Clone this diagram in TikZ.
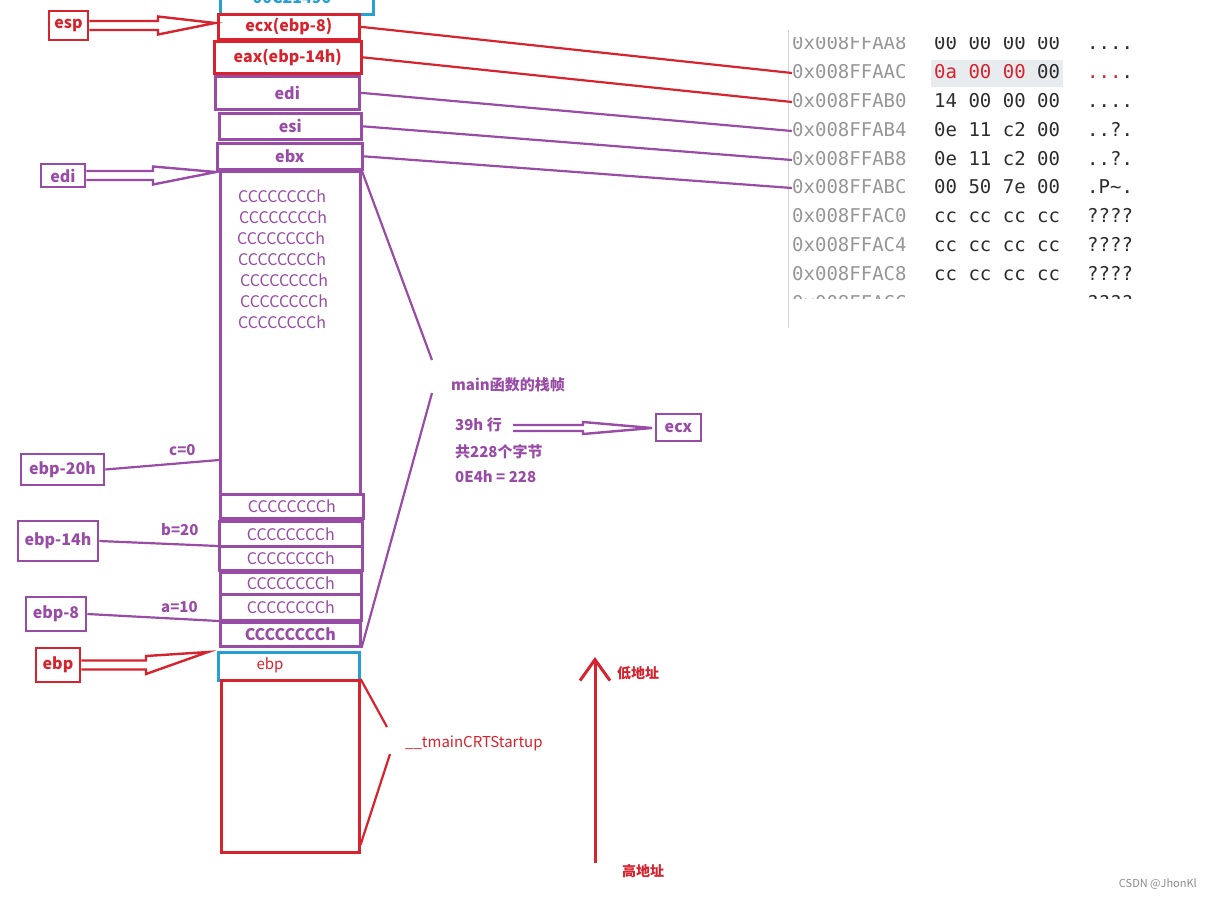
\documentclass[tikz,border=0pt]{standalone}
\usepackage{fontspec}
\setmainfont{Noto Sans CJK SC}
\newfontfamily\monof{DejaVu Sans Mono}
\usetikzlibrary{calc,arrows.meta}
\definecolor{myred}{RGB}{214,35,45}
\definecolor{mypur}{RGB}{152,76,166}
\definecolor{mycyan}{RGB}{38,160,210}
\definecolor{memgray}{RGB}{150,150,150}
\definecolor{memdark}{RGB}{45,45,45}
\definecolor{memhl}{RGB}{233,236,239}
\newcommand\harrow[5]{%
  \draw[#5, line width=2.4pt, line join=miter] let \p1=(#1), \p2=(#2) in
    (\x1,{\y1+#3}) -- ({\x2-#4},{\y1+#3}) -- ({\x2-#4},{\y1+2*#3}) -- (\x2,\y2)
    -- ({\x2-#4},{\y1-2*#3}) -- ({\x2-#4},{\y1-#3}) -- (\x1,{\y1-#3});}
\begin{document}
\begin{tikzpicture}[x=1pt,y=-1pt,
  sbox/.style={draw, line width=2.6pt, rectangle, inner sep=0pt, anchor=north west},
  rbox/.style={sbox, draw=myred, text=myred, font=\fontsize{16}{19}\selectfont\bfseries},
  pbox/.style={sbox, draw=mypur, text=mypur, font=\fontsize{16}{19}\selectfont\bfseries},
  ccbox/.style={sbox, draw=mypur, text=mypur, font=\fontsize{16}{19}\selectfont},
  ctext/.style={text=mypur, font=\fontsize{16}{19}\selectfont, anchor=west, inner sep=0pt},
  lbl/.style={draw, line width=2.6pt, inner sep=0pt, font=\fontsize{16}{19}\selectfont\bfseries},
  ptxt/.style={text=mypur, font=\fontsize{15}{18}\selectfont\bfseries, anchor=west, inner sep=0pt},
  pline/.style={draw=mypur, line width=2.2pt},
  rline/.style={draw=myred, line width=2.2pt},
  addr/.style={text=memgray, font=\monof\fontsize{19}{22}\selectfont, anchor=west, inner sep=0pt, text height=14pt, text depth=4pt},
  bytes/.style={text=memdark, font=\monof\fontsize{19}{22}\selectfont, anchor=west, inner sep=0pt, text height=14pt, text depth=4pt},
]
\useasboundingbox (0,0) rectangle (1209,898);
\clip (0,0) rectangle (1209,898);
\fill[white] (0,0) rectangle (1209,898);

% ---------- stack ----------
\node[sbox, draw=mycyan, minimum width=153pt, minimum height=35pt] (top) at (219,-22) {};
\node[text=mycyan, font=\fontsize{16}{19}\selectfont\bfseries, anchor=base, inner sep=0pt] (toptxt) at (292,3) {00C21490};
\node[rbox, minimum width=141pt, minimum height=25pt] (ecx) at (217,13) {ecx(ebp-8)};
\node[rbox, minimum width=147pt, minimum height=32pt] (eax) at (213,40) {eax(ebp-14h)};
\node[pbox, minimum width=144pt, minimum height=33pt] (edi) at (214,75) {edi};
\node[pbox, minimum width=142pt, minimum height=26pt] (esi) at (218,112) {esi};
\node[pbox, minimum width=145pt, minimum height=26pt] (ebx) at (216,142) {ebx};
\node[sbox, draw=mypur, minimum width=140pt, minimum height=323pt] (big) at (219,170) {};
\node[ctext] (l1) at (238,196) {CCCCCCCCh};
\node[ctext] (l2) at (239,217) {CCCCCCCCh};
\node[ctext] (l3) at (237,238) {CCCCCCCCh};
\node[ctext] (l4) at (238,259) {CCCCCCCCh};
\node[ctext] (l5) at (240,280) {CCCCCCCCh};
\node[ctext] (l6) at (240,301) {CCCCCCCCh};
\node[ctext] (l7) at (238,322) {CCCCCCCCh};
\node[ccbox, minimum width=143pt, minimum height=24pt] (c1) at (219,493) {CCCCCCCCh};
\node[ccbox, minimum width=143pt, minimum height=25pt] (c2) at (218,520) {CCCCCCCCh};
\node[ccbox, minimum width=143pt, minimum height=24pt] (c3) at (218,545) {CCCCCCCCh};
\node[ccbox, minimum width=141pt, minimum height=22pt] (c4) at (219,571) {CCCCCCCCh};
\node[ccbox, minimum width=141pt, minimum height=26pt] (c5) at (219,593) {CCCCCCCCh};
\node[ccbox, minimum width=140pt, minimum height=24pt, font=\fontsize{16}{19}\selectfont\bfseries] (c6) at (219,621) {CCCCCCCCh};
\node[sbox, draw=mycyan, minimum width=141pt, minimum height=28pt] (ebpbox) at (217,651) {};
\node[text=myred, font=\fontsize{15}{18}\selectfont, inner sep=0pt] (ebptxt) at (270,665) {ebp};
\node[sbox, draw=myred, minimum width=138pt, minimum height=172pt] (crt) at (220,679) {};

% ---------- left labels ----------
\node[lbl, draw=myred, text=myred, minimum width=39pt, minimum height=29pt] (esp) at (68.5,25.5) {esp};
\node[lbl, draw=mypur, text=mypur, minimum width=44pt, minimum height=23pt] (ledi) at (63,175.5) {edi};
\node[lbl, draw=mypur, text=mypur, minimum width=83pt, minimum height=31pt] (e20) at (62.5,469.5) {ebp-20h};
\node[lbl, draw=mypur, text=mypur, minimum width=80pt, minimum height=40pt] (e14) at (58,541) {ebp-14h};
\node[lbl, draw=mypur, text=mypur, minimum width=60pt, minimum height=34pt] (e8) at (56,614) {ebp-8};
\node[lbl, draw=myred, text=myred, minimum width=44pt, minimum height=34pt] (lebp) at (58,665) {ebp};

\coordinate (esptip) at (215,23);
\coordinate (editip) at (216,172);
\coordinate (ebptip) at (208,652);
\harrow{esp.east}{esptip}{4.5pt}{57pt}{myred}
\harrow{ledi.east}{editip}{4.5pt}{63pt}{mypur}
\harrow{lebp.east}{ebptip}{4.5pt}{62pt}{myred}

\coordinate (cpt) at (219,460);
\coordinate (bpt) at (218,546);
\coordinate (apt) at (219,621);
\draw[pline] (e20.east) -- (cpt);
\draw[pline] (e14.east) -- (bpt);
\draw[pline] (e8.east) -- (apt);
\node[ptxt] (cl) at (169,450) {c=0};
\node[ptxt] (bl) at (161,530) {b=20};
\node[ptxt] (al) at (161,607) {a=10};

% ---------- bracket & notes ----------
\coordinate (br1) at (432,360);
\coordinate (br2) at (432,393);
\draw[pline] (big.north east) -- (br1);
\draw[pline] (c6.south east) -- (br2);
\node[ptxt] (mainf) at (451,385) {main函数的栈帧};
\node[ptxt] (h39) at (455,425) {39h 行};
\node[ptxt] (tot) at (455,452) {共228个字节};
\node[ptxt] (e4h) at (455,477) {0E4h = 228};
\node[lbl, draw=mypur, text=mypur, minimum width=45pt, minimum height=27pt] (lecx) at (678.5,427.5) {ecx};
\coordinate (ecxtip) at (652,428);
\harrow{513,428}{ecxtip}{3pt}{69pt}{mypur}

\coordinate (crt1) at (387,727);
\coordinate (crt2) at (390,754);
\draw[rline] (crt.north east) -- (crt1);
\draw[rline] (crt2) -- ($(crt.south east)+(0,-9)$);
\node[text=myred, font=\fontsize{15}{18}\selectfont, anchor=west, inner sep=0pt] (tmain) at (405,743) {\_\_tmainCRTStartup};

% ---------- address arrow ----------
\coordinate (abot) at (595,863);
\coordinate (atop) at (595,657);
\draw[myred, line width=3pt, -{Straight Barb[length=21pt, width=30pt, line width=3pt]}] (abot) -- (atop);
\node[text=myred, font=\fontsize{14}{17}\selectfont\bfseries, anchor=west, inner sep=0pt] (low) at (617,673) {低地址};
\node[text=myred, font=\fontsize{14}{17}\selectfont\bfseries, anchor=west, inner sep=0pt] (high) at (622,871) {高地址};

% ---------- memory view ----------
\draw[memgray!40, line width=1pt] (788,30) -- (788,328);
\begin{scope}
\clip (789,37) rectangle (1145,298);
\fill[memhl] (931,60) rectangle (1063,87);
\node[addr] (m0) at (792,44) {0x008FFAA8};
\node[addr] (m1) at (792,73) {0x008FFAAC};
\node[addr] (m2) at (792,102) {0x008FFAB0};
\node[addr] (m3) at (792,131) {0x008FFAB4};
\node[addr] (m4) at (792,160) {0x008FFAB8};
\node[addr] (m5) at (792,188) {0x008FFABC};
\node[addr] (m6) at (792,217) {0x008FFAC0};
\node[addr] (m7) at (792,246) {0x008FFAC4};
\node[addr] (m8) at (792,275) {0x008FFAC8};
\node[addr] (m9) at (792,304) {0x008FFACC};
\node[bytes] (b0) at (934,44) {00 00 00 00};
\node[bytes] (b1) at (934,73) {\textcolor{myred}{0a 00 00} 00};
\node[bytes] (b2) at (934,102) {14 00 00 00};
\node[bytes] (b3) at (934,131) {0e 11 c2 00};
\node[bytes] (b4) at (934,160) {0e 11 c2 00};
\node[bytes] (b5) at (934,188) {00 50 7e 00};
\node[bytes] (b6) at (934,217) {cc cc cc cc};
\node[bytes] (b7) at (934,246) {cc cc cc cc};
\node[bytes] (b8) at (934,275) {cc cc cc cc};
\node[bytes] (a0) at (1087,44) {....};
\node[bytes] (a1) at (1087,73) {\textcolor{myred}{...}.};
\node[bytes] (a2) at (1087,102) {....};
\node[bytes] (a3) at (1087,131) {..?.};
\node[bytes] (a4) at (1087,160) {..?.};
\node[bytes] (a5) at (1087,188) {.P\textasciitilde.};
\node[bytes] (a6) at (1087,217) {????};
\node[bytes] (a7) at (1087,246) {????};
\node[bytes] (a8) at (1087,275) {????};
\node[bytes] (a9) at (1087,304) {????};
\end{scope}

\draw[rline] (ecx.east) -- (m1.west);
\draw[rline] (eax.east) -- (m2.west);
\draw[pline] (edi.east) -- (m3.west);
\draw[pline] (esi.east) -- (m4.west);
\draw[pline] (ebx.east) -- (m5.west);

\node[text=black!45, font=\fontsize{11}{13}\selectfont, anchor=east, inner sep=0pt] (wm) at (1197,884) {CSDN @JhonKl};
\end{tikzpicture}
\end{document}
